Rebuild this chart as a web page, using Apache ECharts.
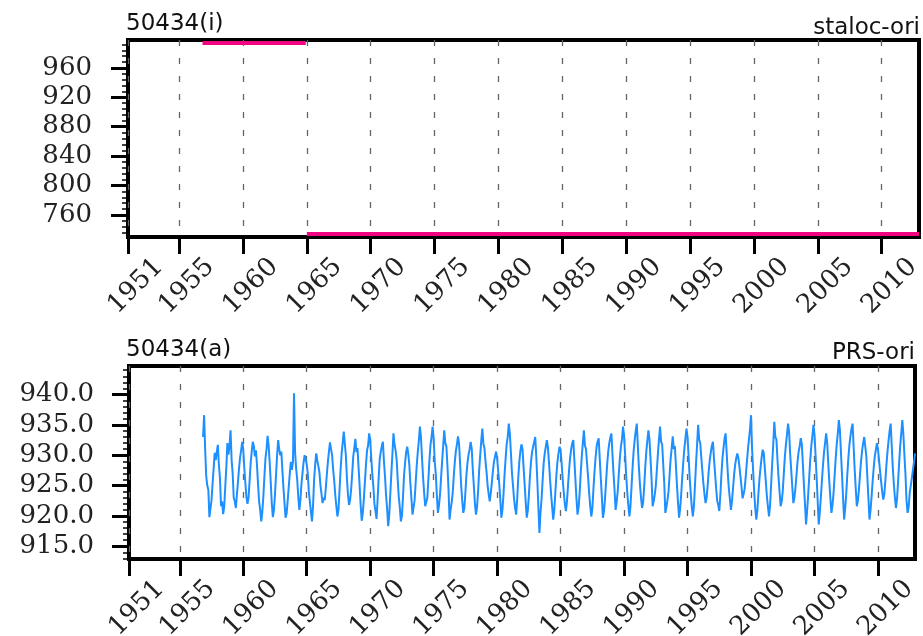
<!DOCTYPE html>
<html>
<head>
<meta charset="utf-8">
<script src="https://cdn.jsdelivr.net/npm/echarts@6/dist/echarts.min.js"></script>
<style>
html,body{margin:0;padding:0;background:#fff;}
#chart{width:923px;height:636px;}
</style>
</head>
<body>
<div id="chart"></div>
<script>
// ---------- data ----------
const xTicks = [1951, 1955, 1960, 1965, 1970, 1975, 1980, 1985, 1990, 1995, 2000, 2005, 2010];
const topYTicks = [760, 800, 840, 880, 920, 960];
const botYTicks = [915, 920, 925, 930, 935, 940];

// station location (staloc-ori)
const stalocStart = [1956 + 10/12, 1965];
const stalocEnd   = [1964 + 11/12, 2012 + 11/12];
const stalocValue = [994, 734];

// monthly station pressure (PRS-ori), starting Nov 1956
const prsStartYear = 1956, prsStartMonth = 11;
const prs1956_59 = [
  933.0, 936.6,
  931.0, 926.5, 925.0, 924.3, 919.8, 921.2, 922.6, 925.3, 927.8, 930.4, 929.2, 930.6,
  931.7, 928.3, 926.2, 921.6, 922.4, 920.3, 921.5, 924.8, 928.0, 932.0, 930.1, 931.5,
  934.1, 929.2, 927.0, 923.0, 922.4, 921.3, 923.5, 925.6, 927.8, 929.6, 930.8, 932.2
];
const prs1960s = [
  931.0, 927.9, 925.4, 923.1, 922.0, 923.0, 925.8, 928.7, 930.6, 932.2, 931.5, 929.8,
  930.8, 928.3, 925.2, 922.4, 921.0, 919.1, 920.6, 923.2, 926.5, 929.5, 931.0, 933.2,
  931.6, 928.8, 925.5, 922.0, 919.8, 921.0, 923.6, 926.8, 930.0, 932.5, 931.0, 930.0,
  930.6, 927.5, 924.6, 922.2, 919.7, 920.4, 922.5, 924.8, 927.0, 928.9, 927.6, 929.0,
  940.2, 930.5, 927.8, 926.0, 923.2, 921.0, 922.6, 925.2, 927.0, 928.8, 930.0, 929.4,
  928.5, 927.0, 924.0, 922.3, 920.6, 919.1, 921.8, 926.0, 928.5, 930.3, 929.1, 928.2,
  927.2, 925.0, 923.6, 922.1, 923.0, 922.6, 924.5, 926.8, 928.9, 930.6, 932.1, 931.0,
  930.0, 927.6, 925.8, 923.4, 921.6, 919.9, 921.0, 924.2, 927.6, 930.3, 932.0, 933.9,
  934.1, 930.0, 926.2, 923.5, 921.8, 922.6, 924.4, 927.0, 929.8, 931.2, 932.7, 930.5,
  931.2, 928.0, 925.0, 921.7, 919.2, 920.5, 922.8, 925.6, 928.4, 930.8, 931.6, 933.6
];
const prs1970s = [
  932.5, 929.6, 926.9, 924.8, 922.0, 920.8, 919.5, 922.7, 926.2, 929.4, 930.6, 931.5,
  932.2, 929.0, 926.5, 923.4, 921.2, 918.3, 920.1, 923.6, 927.0, 930.2, 933.6, 931.8,
  930.8, 929.3, 926.0, 923.2, 921.4, 919.1, 920.0, 923.1, 926.7, 928.8, 930.5, 931.4,
  930.2, 928.4, 925.3, 922.8, 920.2, 921.4, 922.6, 925.5, 928.3, 930.6, 932.4, 934.7,
  933.0, 929.5, 926.3, 923.8, 921.6, 922.3, 923.0, 926.0, 929.2, 931.7, 933.0, 934.7,
  932.8, 929.0, 926.9, 923.5, 920.5, 921.7, 923.5, 926.3, 929.0, 931.5, 934.1, 932.0,
  931.5, 928.3, 924.6, 919.4, 921.0, 922.2, 923.8, 926.6, 928.9, 930.7, 931.8, 933.1,
  931.9, 928.6, 925.0, 922.5, 920.5, 921.3, 923.9, 926.8, 928.8, 930.1, 931.0, 932.2,
  931.0, 927.6, 924.9, 922.0, 920.2, 921.5, 924.0, 927.5, 930.0, 932.4, 934.4, 931.9,
  931.2, 929.0, 927.2, 925.0, 923.6, 922.4, 923.8, 925.5, 927.4, 928.9, 929.8, 930.6
];
const prs1980s = [
  929.5, 927.4, 925.3, 922.6, 919.7, 921.0, 923.5, 926.8, 929.4, 931.8, 933.0, 935.2,
  933.6, 930.5, 927.1, 925.0, 922.8, 921.3, 920.2, 923.0, 926.4, 929.0, 930.7, 931.8,
  931.0, 928.0, 925.2, 922.3, 919.7, 920.9, 923.4, 926.5, 928.9, 930.5, 931.4, 932.2,
  933.0, 929.8, 925.7, 921.4, 917.2, 920.6, 922.8, 925.9, 928.7, 930.3, 931.4, 932.5,
  931.3, 928.8, 926.1, 923.6, 921.5, 919.4, 921.0, 923.8, 926.7, 928.9, 930.3, 931.4,
  930.9, 928.6, 926.0, 923.8, 922.0, 920.8, 922.4, 925.0, 927.6, 929.6, 931.0, 932.0,
  932.5, 929.2, 926.0, 922.8, 920.2, 921.4, 923.8, 927.0, 929.8, 932.0, 934.1, 931.6,
  931.0, 928.6, 926.4, 923.7, 921.6, 919.9, 921.2, 924.4, 927.2, 929.5, 931.4, 932.3,
  932.8, 929.4, 926.2, 923.1, 919.7, 920.8, 922.9, 925.7, 928.5, 930.6, 932.0, 932.9,
  933.6, 930.2, 927.0, 924.2, 921.0, 922.3, 924.1, 926.9, 929.5, 931.4, 932.6, 934.7
];
const prs1990s = [
  933.2, 930.0, 926.6, 923.9, 921.8, 919.9, 921.5, 924.7, 927.9, 930.6, 932.5, 934.0,
  935.2, 931.5, 928.0, 925.2, 923.0, 921.3, 922.2, 924.8, 928.0, 930.6, 932.4, 934.1,
  932.6, 929.4, 926.0, 921.6, 922.4, 923.5, 925.0, 927.6, 930.3, 932.6, 934.7, 932.2,
  931.8, 928.5, 925.3, 920.5, 921.4, 922.6, 924.0, 926.7, 929.4, 931.2, 933.1, 931.0,
  931.5, 928.3, 925.0, 922.2, 919.7, 921.2, 923.6, 926.4, 929.0, 931.1, 932.8, 934.4,
  933.0, 929.7, 926.3, 923.8, 921.5, 919.9, 921.6, 925.0, 928.6, 931.7, 935.0, 932.6,
  932.0, 929.6, 927.4, 925.3, 923.6, 922.1, 923.0, 925.0, 927.4, 929.2, 930.5, 931.6,
  932.2, 929.4, 927.0, 924.6, 922.5, 921.8, 920.8, 923.4, 926.8, 929.5, 931.2, 932.8,
  933.6, 930.3, 927.1, 924.6, 922.8, 921.0, 922.4, 924.6, 926.8, 928.4, 929.5, 930.3,
  929.6, 928.2, 926.5, 924.8, 922.9, 923.6, 924.5, 926.5, 928.7, 930.8, 932.6, 934.2
];
const prs2000s = [
  936.6, 931.0, 927.4, 924.0, 921.2, 919.4, 921.0, 923.7, 926.2, 928.0, 929.6, 930.9,
  930.4, 928.0, 925.6, 923.2, 921.5, 919.9, 921.7, 925.2, 928.6, 931.8, 935.5, 933.0,
  932.6, 929.3, 926.4, 923.9, 921.6, 922.4, 924.1, 927.0, 929.8, 931.8, 933.4, 935.2,
  933.8, 930.2, 927.5, 924.8, 922.1, 923.0, 924.6, 926.8, 929.0, 930.6, 931.5, 932.8,
  931.8, 928.6, 925.1, 922.0, 918.6, 920.8, 923.4, 926.4, 929.3, 931.6, 933.2, 935.0,
  933.4, 930.0, 926.4, 922.5, 918.6, 920.6, 923.0, 925.8, 928.3, 930.5, 932.0, 933.6,
  932.0, 928.7, 925.6, 922.9, 920.5, 921.8, 923.7, 926.6, 929.4, 931.8, 933.5, 935.8,
  934.2, 930.5, 926.8, 923.0, 919.4, 921.2, 923.6, 926.8, 929.5, 931.7, 933.2, 934.4,
  935.2, 931.3, 927.6, 924.5, 921.6, 922.5, 924.3, 926.8, 929.0, 930.8, 932.0, 933.0,
  933.3, 929.8, 926.2, 922.8, 919.4, 921.0, 923.3, 925.8, 928.0, 929.8, 930.9, 932.0
];
const prs2010s = [
  931.0, 929.2, 927.3, 925.6, 924.0, 922.7, 923.6, 925.8, 928.4, 930.6, 932.4, 934.0,
  935.2, 931.6, 928.0, 925.3, 923.0, 921.3, 922.8, 925.6, 928.7, 931.5, 933.6, 935.8,
  933.5, 930.0, 926.8, 922.5, 920.5, 921.4, 923.8, 925.0, 926.2, 927.5, 928.8, 930.3
];

// ---------- build ----------
const prs = [].concat(prs1956_59, prs1960s, prs1970s, prs1980s, prs1990s, prs2000s, prs2010s);
const prsData = prs.map((v, i) => [prsStartYear + (prsStartMonth - 1 + i) / 12, v]);

const xMin = 1951, xMax = 2012 + 11/12;
function range(a, b, s) { const r = []; for (let v = a; v <= b + 1e-9; v += s) r.push(v); return r; }
const topMinor = range(736, 992, 8);
const botMinor = range(913, 944, 1);

const FONT_NUM = 'DejaVu Serif';
const FONT_TXT = 'DejaVu Sans';

function xAxisCfg(gi) {
  return {
    type: 'value', gridIndex: gi, min: xMin, max: xMax,
    axisLine: { show: false },
    axisTick: { show: true, inside: false, length: 17, customValues: xTicks,
                lineStyle: { color: '#000', width: 3 } },
    axisLabel: { customValues: xTicks, rotate: 45, align: 'center', verticalAlign: 'middle',
                 margin: 57, padding: [0, 0, 0, 22],
                 fontFamily: FONT_NUM, fontSize: 26, color: '#222',
                 formatter: v => String(v) },
    splitLine: { show: true, lineStyle: { type: [6, 12], color: '#666', width: 1.3 } }
  };
}
function yMajor(gi, mn, mx, ticks, fmt, margin) {
  return {
    type: 'value', gridIndex: gi, position: 'left', min: mn, max: mx,
    axisLine: { show: false },
    axisTick: { show: true, inside: false, length: 17, customValues: ticks,
                lineStyle: { color: '#000', width: 3 } },
    axisLabel: { customValues: ticks, margin: margin, fontFamily: FONT_NUM, fontSize: 26,
                 color: '#222', formatter: fmt },
    splitLine: { show: false }
  };
}
function yMinor(gi, mn, mx, ticks) {
  return {
    type: 'value', gridIndex: gi, position: 'left', offset: 0, min: mn, max: mx,
    axisLine: { show: false },
    axisTick: { show: true, inside: false, length: 6, customValues: ticks,
                lineStyle: { color: '#000', width: 1.5 } },
    axisLabel: { show: false },
    splitLine: { show: false }
  };
}

const titleStyle = { fontFamily: FONT_TXT, fontSize: 23, fontWeight: 'normal', color: '#111' };

const series = stalocValue.map((v, i) => ({
  type: 'line', xAxisIndex: 0, yAxisIndex: 0,
  data: [[stalocStart[i], v], [stalocEnd[i], v]],
  showSymbol: false, symbol: 'none', silent: true,
  lineStyle: { color: '#f0047f', width: 4 }
}));
series.push({
  type: 'line', xAxisIndex: 1, yAxisIndex: 2, data: prsData,
  showSymbol: false, symbol: 'none', silent: true,
  lineStyle: { color: '#1e8fff', width: 2 }
});

const gridBase = { show: true, borderColor: '#000', borderWidth: 4, backgroundColor: 'rgba(0,0,0,0)',
                   containLabel: false, outerBoundsMode: 'none' };

const option = {
  animation: false,
  backgroundColor: '#fff',
  title: [
    { text: '50434(i)', left: 126, top: 13, padding: 0, textStyle: titleStyle },
    { text: 'staloc-ori', right: 3, top: 17, padding: 0, textStyle: titleStyle },
    { text: '50434(a)', left: 126, top: 339, padding: 0, textStyle: titleStyle },
    { text: 'PRS-ori', right: 8, top: 342, padding: 0, textStyle: titleStyle }
  ],
  grid: [
    Object.assign({ left: 128, top: 40, width: 791, height: 197 }, gridBase),
    Object.assign({ left: 129, top: 366, width: 786, height: 193 }, gridBase)
  ],
  xAxis: [xAxisCfg(0), xAxisCfg(1)],
  yAxis: [
    yMajor(0, 730, 998, topYTicks, v => String(v), 36),
    yMinor(0, 730, 998, topMinor),
    yMajor(1, 912.9, 944.7, botYTicks, v => v.toFixed(1), 35),
    yMinor(1, 912.9, 944.7, botMinor)
  ],
  series: series
};

const chart = echarts.init(document.getElementById('chart'), null, { renderer: 'canvas' });
chart.setOption(option);
</script>
</body>
</html>
